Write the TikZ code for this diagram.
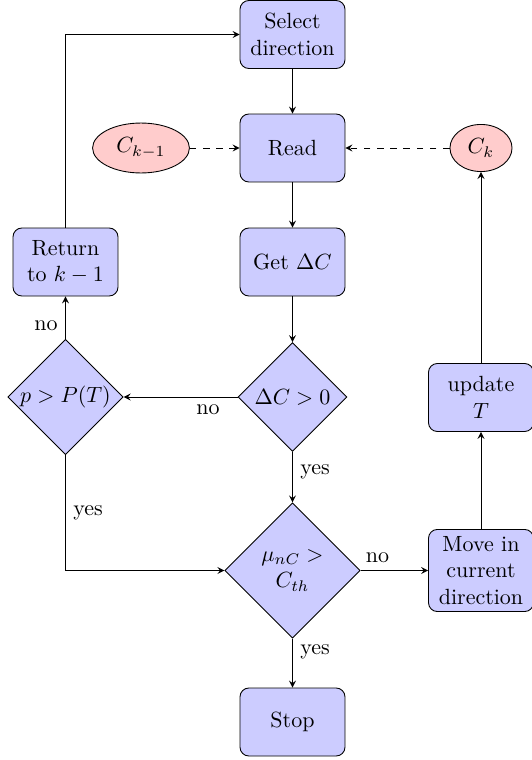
\documentclass[tikz,border=0pt]{standalone}
\usetikzlibrary{shapes.geometric,arrows.meta}
\begin{document}
\begin{tikzpicture}[x=0.4545pt,y=-0.4545pt,
 box/.style={draw,rounded corners=4pt,fill=blue!20,minimum width=47.7pt,minimum height=30.9pt,align=center,inner sep=1pt},
 dia/.style={draw,diamond,aspect=1,fill=blue!20,inner sep=0pt,align=center},
 ell/.style={draw,ellipse,fill=red!20,inner sep=1pt},
 arr/.style={-stealth}]
\useasboundingbox (0,0) rectangle (532,760);
\node[box] (sel) at (292.5,34.5) {Select\\direction};
\node[box] (read) at (292.5,148) {Read};
\node[ell,minimum width=44pt,minimum height=22.7pt] (ck1) at (141,148) {$C_{k-1}$};
\node[ell,minimum width=28.2pt,minimum height=21.4pt] (ck) at (481,148) {$C_k$};
\node[box] (get) at (292.5,262) {Get $\Delta C$};
\node[dia,minimum size=49.5pt] (d1) at (292.5,397) {$\Delta C>0$};
\node[dia,minimum size=52.5pt] (d2) at (65.5,397) {$p>P(T)$};
\node[box] (ret) at (65.5,262) {Return\\to $k-1$};
\node[dia,minimum size=61.5pt] (d3) at (292.5,570.5) {$\mu_{nC}>$\\$C_{th}$};
\node[box,minimum height=37.3pt] (move) at (481,570.5) {Move in\\current\\direction};
\node[box] (upd) at (481,397.5) {update\\$T$};
\node[box] (stop) at (292.5,722) {Stop};
\draw[arr] (sel) -- (read);
\draw[arr] (read) -- (get);
\draw[arr] (get) -- (d1);
\draw[arr] (d1) -- node[below,pos=0.26] {no} (d2);
\draw[arr] (d1) -- node[right,pos=0.4] {yes} (d3);
\draw[arr] (d2) -- node[left,pos=0.3] {no} (ret);
\draw[arr] (d2.south) |- node[right,pos=0.25] {yes} (d3.west);
\draw[arr] (d3) -- node[above,pos=0.25] {no} (move);
\draw[arr] (d3) -- node[right,pos=0.28] {yes} (stop);
\draw[arr] (move) -- (upd);
\draw[arr] (upd) -- (ck);
\draw[arr,dashed] (ck) -- (read);
\draw[arr,dashed] (ck1) -- (read);
\draw[arr] (ret) |- (sel);
\end{tikzpicture}
\end{document}
